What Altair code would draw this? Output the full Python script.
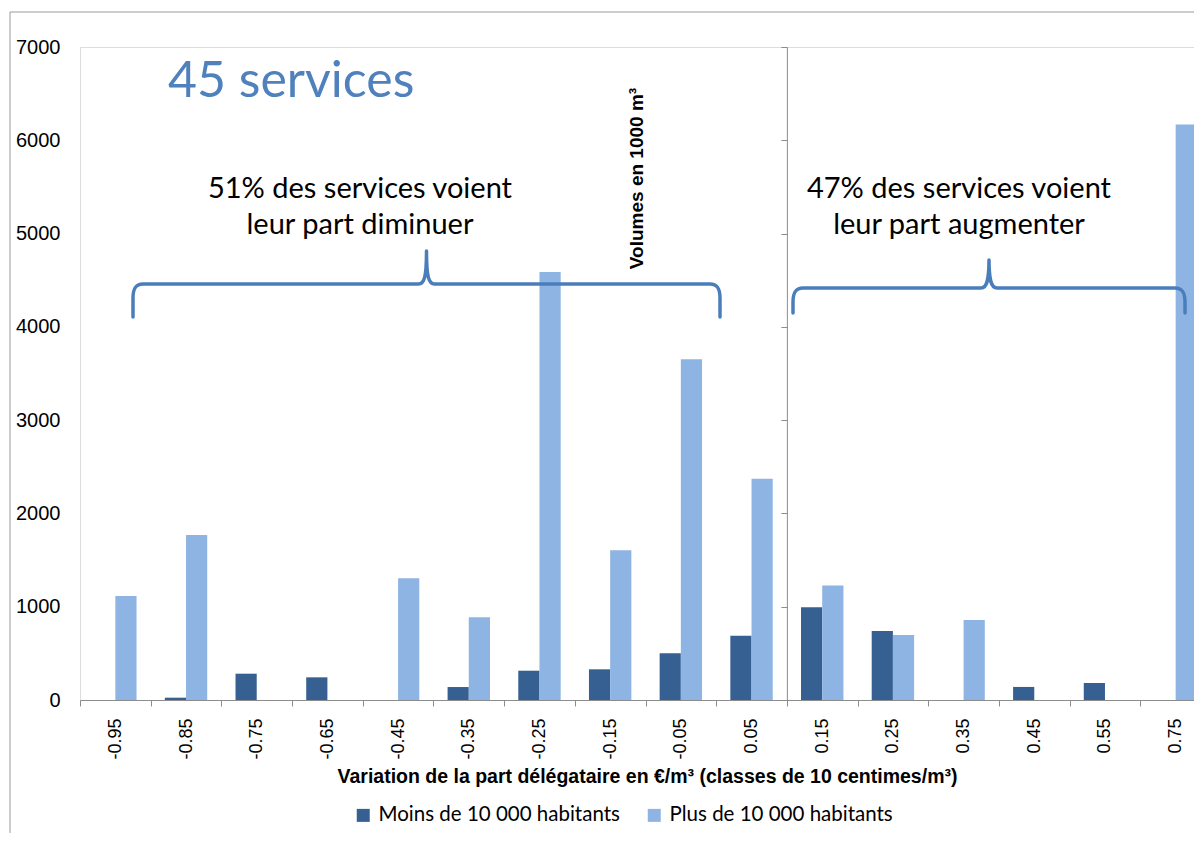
import altair as alt
import pandas as pd

# ---- data ----
categories = ["-0.95", "-0.85", "-0.75", "-0.65", "-0.45", "-0.35", "-0.25", "-0.15",
              "-0.05", "0.05", "0.15", "0.25", "0.35", "0.45", "0.55", "0.75"]
moins = [0, 25, 282, 243, 0, 139, 314, 329, 500, 689, 995, 740, 0, 140, 182, 0]
plus = [1115, 1770, 0, 0, 1304, 886, 4587, 1604, 3654, 2372, 1228, 697, 857, 0, 0, 6170]
series = ["Moins de 10 000 habitants", "Plus de 10 000 habitants"]
y_ticks = [0, 1000, 2000, 3000, 4000, 5000, 6000, 7000]

rows = []
for c, a, b in zip(categories, moins, plus):
    rows.append({"classe": c, "serie": series[0], "volume": a})
    rows.append({"classe": c, "serie": series[1], "volume": b})
df = pd.DataFrame(rows)
one = pd.DataFrame({"k": [0]})

W, H = 1131, 653
STEP = W / len(categories)
DARK, LIGHT = "#366092", "#8EB4E3"
BLUE = "#4A7EBB"
GRAY = "#8C8C8C"

yscale = alt.Scale(domain=[0, 7000], nice=False)

bars = alt.Chart(df).mark_bar().encode(
    x=alt.X("classe:N", sort=categories,
            scale=alt.Scale(paddingInner=0, paddingOuter=0, round=False),
            axis=alt.Axis(title="Variation de la part délégataire en €/m³ (classes de 10 centimes/m³)",
                          titleFont="Liberation Sans", titleFontSize=19.5, titleFontWeight="bold",
                          titleColor="black", titleY=76, titleX=567, titleBaseline="middle",
                          labelAngle=270, labelAlign="right", labelBaseline="middle",
                          labelFont="Liberation Sans", labelFontSize=18, labelColor="black",
                          labelPadding=12, labelOverlap=False,
                          tickBand="extent", tickSize=6, tickColor=GRAY,
                          domainColor=GRAY, grid=False)),
    xOffset=alt.XOffset("serie:N", sort=series,
                        scale=alt.Scale(paddingInner=0, paddingOuter=0.667, round=False)),
    y=alt.Y("volume:Q", scale=yscale,
            axis=alt.Axis(values=y_ticks, format="d", labelFont="Liberation Sans",
                          labelFontSize=20, labelColor="black", labelPadding=20,
                          ticks=False, domain=False, grid=False,
                          title="Volumes en 1000 m³", titleFont="Liberation Sans",
                          titleFontSize=19, titleFontWeight="bold", titleColor="black",
                          titleAngle=270, titleAlign="center", titleBaseline="middle",
                          titleX=556, titleY=131)),
    color=alt.Color("serie:N", scale=alt.Scale(domain=series, range=[DARK, LIGHT]),
                    legend=alt.Legend(title=None, orient="none", legendX=273, legendY=758,
                                      direction="horizontal", symbolType="square",
                                      symbolSize=169, symbolStrokeWidth=0,
                                      labelFont="Lato", labelFontSize=20.5, labelColor="black",
                                      labelLimit=500, labelOffset=5, columnPadding=24)),
)

axis2 = alt.Chart(df).mark_point(opacity=0).encode(
    y=alt.Y("volume:Q", scale=yscale,
            axis=alt.Axis(orient="left", offset=-10 * STEP, values=y_ticks, labels=False,
                          ticks=True, tickSize=6, tickColor=GRAY, domain=True,
                          domainColor=GRAY, grid=False, title=None)),
)

frame = alt.Chart(one).mark_rect(fillOpacity=0, stroke="#9A9A9A", strokeWidth=1).encode(
    x=alt.value(-70), x2=alt.value(1400), y=alt.value(-35), y2=alt.value(1000)
)

title45 = alt.Chart(one).mark_text(
    text="45 services", font="Lato", fontSize=50, color="#4F81BD",
    align="left", baseline="alphabetic"
).encode(x=alt.value(88), y=alt.value(50))

left_txt = alt.Chart(one).mark_text(
    font="Lato", fontSize=29, color="black", align="center",
    baseline="alphabetic", lineHeight=36
).encode(x=alt.value(280), y=alt.value(151),
         text=alt.value(["51% des services voient", "leur part diminuer"]))

right_txt = alt.Chart(one).mark_text(
    font="Lato", fontSize=29, color="black", align="center",
    baseline="alphabetic", lineHeight=36
).encode(x=alt.value(879), y=alt.value(151),
         text=alt.value(["47% des services voient", "leur part augmenter"]))


def brace_path(half, drop, rise, r=10.0, tip=8.0):
    u = lambda v: round(v / half, 4)
    return (f"M -1 {u(drop)} L -1 {u(14)} C -1 {u(4)} {-1 + u(3)} 0 {-1 + u(r)} 0 "
            f"L {-u(tip)} 0 C {-u(2)} 0 0 {-u(8)} 0 {-u(rise)} "
            f"C 0 {-u(8)} {u(2)} 0 {u(tip)} 0 "
            f"L {1 - u(r)} 0 C {1 - u(3)} 0 1 {u(4)} 1 {u(14)} L 1 {u(drop)}")


left_brace = alt.Chart(one).mark_point(
    shape=brace_path(293.5, 33, 33), size=587 ** 2, filled=False, stroke=BLUE,
    strokeWidth=3.5, opacity=1, strokeCap="round", strokeJoin="round"
).encode(x=alt.value(346.5), y=alt.value(237))

right_brace = alt.Chart(one).mark_point(
    shape=brace_path(196, 25, 28), size=392 ** 2, filled=False, stroke=BLUE,
    strokeWidth=3.5, opacity=1, strokeCap="round", strokeJoin="round"
).encode(x=alt.value(909), y=alt.value(241))

chart = alt.layer(
    frame, bars, axis2, title45, left_txt, right_txt, left_brace, right_brace
).resolve_axis(y="independent").properties(
    width=W, height=H,
    padding={"left": 72, "top": 39, "right": -17, "bottom": 133},
    autosize=alt.AutoSizeParams(type="none"),
).configure_view(stroke=None).configure(background="white")

chart.save("out.html", embed_options={"renderer": "svg", "actions": False})
